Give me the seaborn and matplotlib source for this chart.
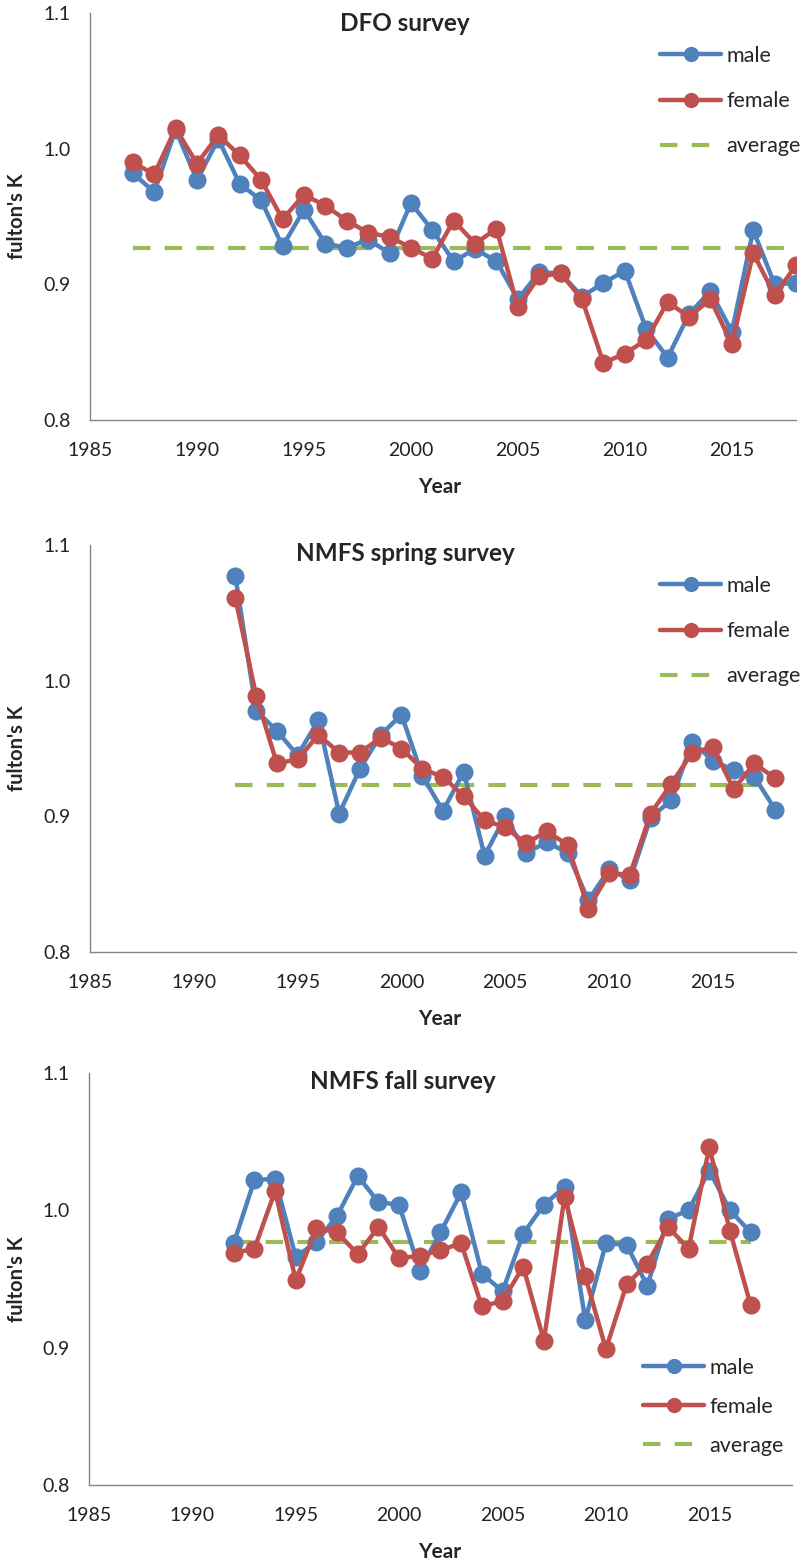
import numpy as np
import pandas as pd
import matplotlib
matplotlib.use("Agg")
import matplotlib.pyplot as plt
import seaborn as sns
from matplotlib.lines import Line2D

# ---------------- data ----------------
dfo_years = list(range(1987, 2019))
dfo_male = [0.982, 0.968, 1.014, 0.977, 1.007, 0.974, 0.962, 0.928, 0.955, 0.930,
            0.927, 0.933, 0.923, 0.960, 0.940, 0.917, 0.926, 0.917, 0.889, 0.909,
            0.908, 0.891, 0.901, 0.910, 0.867, 0.846, 0.878, 0.895, 0.865, 0.940,
            0.900, 0.901]
dfo_female = [0.990, 0.981, 1.015, 0.989, 1.010, 0.995, 0.977, 0.948, 0.966, 0.958,
              0.947, 0.938, 0.935, 0.927, 0.919, 0.947, 0.930, 0.941, 0.883, 0.906,
              0.908, 0.889, 0.842, 0.849, 0.859, 0.887, 0.876, 0.889, 0.856, 0.923,
              0.892, 0.914]
dfo_avg = 0.927

spr_years = list(range(1992, 2019))
spr_male = [1.077, 0.978, 0.963, 0.945, 0.971, 0.902, 0.935, 0.960, 0.975, 0.930,
            0.904, 0.933, 0.871, 0.900, 0.873, 0.881, 0.873, 0.838, 0.861, 0.853,
            0.899, 0.912, 0.955, 0.941, 0.934, 0.929, 0.905]
spr_female = [1.061, 0.989, 0.939, 0.942, 0.960, 0.947, 0.947, 0.958, 0.950, 0.935,
              0.929, 0.915, 0.897, 0.892, 0.880, 0.889, 0.879, 0.832, 0.858, 0.857,
              0.902, 0.924, 0.947, 0.951, 0.920, 0.939, 0.928]
spr_avg = 0.923

fall_years = list(range(1992, 2018))
fall_male = [0.976, 1.022, 1.023, 0.966, 0.977, 0.996, 1.025, 1.006, 1.004, 0.956,
             0.984, 1.013, 0.954, 0.941, 0.983, 1.004, 1.017, 0.920, 0.976, 0.975,
             0.945, 0.994, 1.000, 1.029, 1.000, 0.984]
fall_female = [0.969, 0.972, 1.014, 0.949, 0.987, 0.984, 0.968, 0.988, 0.965, 0.967,
               0.971, 0.976, 0.930, 0.934, 0.959, 0.905, 1.010, 0.952, 0.899, 0.946,
               0.961, 0.988, 0.972, 1.046, 0.985, 0.931]
fall_avg = 0.977

titles = ["DFO survey", "NMFS spring survey", "NMFS fall survey"]
x_ticks = [1985, 1990, 1995, 2000, 2005, 2010, 2015]
y_ticks = [0.8, 0.9, 1.0, 1.1]
y_ticklabels = ["0.8", "0.9", "1.0", "1.1"]
series_labels = ["male", "female", "average"]

# ---------------- style ----------------
sns.set_style("white")
plt.rcParams['font.family'] = ['Lato', 'DejaVu Sans']

BLUE = "#4F81BD"
RED = "#C0504D"
GREEN = "#9BBB59"
AXC = "#868686"
DASH = (4.2, 3.4)

fig = plt.figure(figsize=(8.04, 15.64), dpi=100)
W, H = 804, 1564

panels = [
    # years, male, female, avg, (left,right,top,bottom px), xmax, title (x, baseline y), legend (x, top y, spacing)
    (dfo_years, dfo_male, dfo_female, dfo_avg, (90, 796, 13, 420), 2018, (405, 31), (660, 46, 1.17)),
    (spr_years, spr_male, spr_female, spr_avg, (90, 796, 545, 952), 2019, (405, 561), (660, 576, 1.17)),
    (fall_years, fall_male, fall_female, fall_avg, (89, 792, 1073, 1485), 2019, (403, 1089), (643, 1358, 0.88)),
]

for i, (yrs, male, female, avg, (l, r, t, b), xmax, (tx, ty), (lx, ly, lsp)) in enumerate(panels):
    ax = fig.add_axes([l / W, 1 - b / H, (r - l) / W, (b - t) / H])
    df = pd.DataFrame({"Year": yrs, "male": male, "female": female,
                       "average": [avg] * len(yrs)})
    sns.lineplot(data=df, x="Year", y="average", ax=ax, color=GREEN, lw=3.0, zorder=1)
    ax.lines[-1].set_dashes(DASH)
    sns.lineplot(data=df, x="Year", y="male", ax=ax, color=BLUE, lw=3.2,
                 marker="o", markersize=13, markeredgewidth=0, zorder=2)
    sns.lineplot(data=df, x="Year", y="female", ax=ax, color=RED, lw=3.2,
                 marker="o", markersize=13, markeredgewidth=0, zorder=3)

    ax.set_xlim(1985, xmax)
    ax.set_ylim(0.8, 1.1)
    ax.set_xticks(x_ticks)
    ax.set_yticks(y_ticks)
    ax.set_yticklabels(y_ticklabels)
    for s in ["top", "right"]:
        ax.spines[s].set_visible(False)
    for s in ["left", "bottom"]:
        ax.spines[s].set_color(AXC)
        ax.spines[s].set_linewidth(1.0)
    ax.tick_params(axis="both", direction="out", length=6, width=1.0, color=AXC,
                   labelsize=14, labelcolor="#222222")
    ax.tick_params(axis="x", pad=10)
    ax.tick_params(axis="y", pad=8)
    ax.set_xlabel("Year", fontsize=15, fontweight="bold")
    ax.set_ylabel("fulton's K", fontsize=14.5, fontweight="bold")
    ax.xaxis.set_label_coords((440 - l) / (r - l), -57 / (b - t))
    ax.yaxis.set_label_coords((27 - l) / (r - l), 0.5)
    fig.text(tx / W, 1 - ty / H, titles[i], fontsize=17.5, fontweight="bold",
             ha="center", va="baseline")

    handles = [
        Line2D([], [], color=BLUE, lw=3.2, marker="o", markersize=11, markeredgewidth=0),
        Line2D([], [], color=RED, lw=3.2, marker="o", markersize=11, markeredgewidth=0),
        Line2D([], [], color=GREEN, lw=3.0, dashes=DASH),
    ]
    fig.legend(handles, series_labels, loc="upper left",
               bbox_to_anchor=(lx / W, 1 - ly / H),
               frameon=False, fontsize=15.5, handlelength=2.85, handletextpad=0.25,
               labelspacing=lsp, borderpad=0, borderaxespad=0)

fig.savefig("out.png", dpi=100)
